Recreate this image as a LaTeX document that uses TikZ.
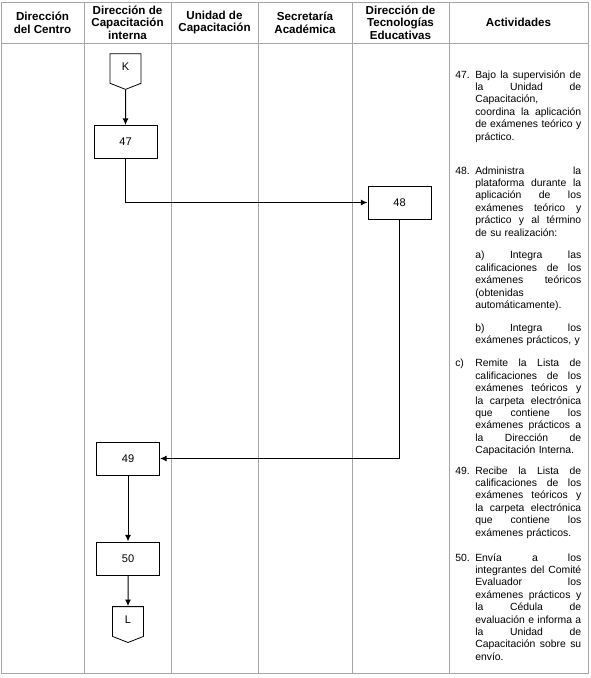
\documentclass[tikz,border=0pt]{standalone}
\usepackage{fontspec}
\setmainfont{Liberation Sans}
\usetikzlibrary{shapes.symbols, arrows.meta}
\newlength{\numw}\setlength{\numw}{15pt}
\newlength{\actw}\setlength{\actw}{79.5pt}
\newcommand{\jl}[1]{\hbox to \actw{\spaceskip=0.25em plus 1fil\relax #1}}
\newcommand{\il}{\hspace*{\numw}}
\newcommand{\nl}[1]{\makebox[\numw][l]{#1}}

\begin{document}
\begin{tikzpicture}[x=0.75pt, y=-0.75pt,
	lane/.style={draw=gray!70, line width=0.75pt},
	head/.style={font=\fontsize{8.7}{9.5}\selectfont\bfseries, align=center},
	stepbox/.style={draw, line width=0.75pt, minimum width=47.25pt, minimum height=24.75pt, inner sep=0pt, font=\fontsize{8.3}{9}\selectfont},
	offpage/.style={draw, line width=0.6pt, signal, signal to=south, signal from=nowhere, signal pointer angle=137, minimum width=23.25pt, minimum height=23.25pt, inner sep=0pt, font=\fontsize{8.3}{9}\selectfont},
	act/.style={anchor=base west, inner sep=0pt, text width=94.5pt, align=left, font=\fontsize{7.8}{9.3}\selectfont},
	flow/.style={->, >={Latex[length=5pt, width=4.5pt]}, line width=0.75pt}]
	\useasboundingbox (0,0) rectangle (590,678);
	% table
	\draw [lane] (1,2) rectangle (588,673);
	\draw [lane] (1,43) -- (588,43);
	\draw [lane] (84,2) -- (84,673);
	\draw [lane] (171,2) -- (171,673);
	\draw [lane] (258,2) -- (258,673);
	\draw [lane] (352,2) -- (352,673);
	\draw [lane] (449,2) -- (449,673);
	% headers
	\node [head] (hcentro) at (42.5,22.5) {Dirección\\del Centro};
	\node [head] (hcapint) at (127.5,22.5) {Dirección de\\Capacitación\\interna};
	\node [head] (hunidad) at (214.5,22.5) {Unidad de\\Capacitación};
	\node [head] (hsecre) at (305,22.5) {Secretaría\\Académica};
	\node [head] (htec) at (400.5,22.5) {Dirección de\\Tecnologías\\Educativas};
	\node [head] (hact) at (518.5,22.5) {Actividades};
	% flow
	\node [offpage] (K) at (125.5,68.5) {\raisebox{2.5pt}{K}};
	\node [stepbox] (p47) at (125.5,142) {47};
	\node [stepbox] (p48) at (399.5,202.5) {48};
	\node [stepbox] (p49) at (128,458.5) {49};
	\node [stepbox] (p50) at (128,558.5) {50};
	\node [offpage] (L) at (128,621.5) {\raisebox{2.5pt}{L}};
	\draw [flow] (K) -- (p47);
	\draw [flow] (p47) |- (p48);
	\draw [flow] (p48) |- (p49);
	\draw [flow] (p49) -- (p50);
	\draw [flow] (p50) -- (L);
	% activities
	\node [act] (t47) at (455,78) {\nl{47.}\jl{Bajo la supervisión de}\\
		\il\jl{la Unidad de}\\
		\il Capacitación,\\
		\il\jl{coordina la aplicación}\\
		\il\jl{de exámenes teórico y}\\
		\il práctico.};
	\node [act] (t48) at (455,174) {\nl{48.}\jl{Administra la}\\
		\il\jl{plataforma durante la}\\
		\il\jl{aplicación de los}\\
		\il\jl{exámenes teórico y}\\
		\il\jl{práctico y al término}\\
		\il de su realización:\\[7.9pt]
		\il\jl{a) Integra las}\\
		\il\jl{calificaciones de los}\\
		\il\jl{exámenes teóricos}\\
		\il (obtenidas\\
		\il automáticamente).\\[7.9pt]
		\il\jl{b) Integra los}\\
		\il exámenes prácticos, y\\[7.9pt]
		\nl{c)}\jl{Remite la Lista de}\\
		\il\jl{calificaciones de los}\\
		\il\jl{exámenes teóricos y}\\
		\il\jl{la carpeta electrónica}\\
		\il\jl{que contiene los}\\
		\il\jl{exámenes prácticos a}\\
		\il\jl{la Dirección de}\\
		\il Capacitación Interna.};
	\node [act] (t49) at (455,474) {\nl{49.}\jl{Recibe la Lista de}\\
		\il\jl{calificaciones de los}\\
		\il\jl{exámenes teóricos y}\\
		\il\jl{la carpeta electrónica}\\
		\il\jl{que contiene los}\\
		\il exámenes prácticos.};
	\node [act] (t50) at (455,561) {\nl{50.}\jl{Envía a los}\\
		\il\jl{integrantes del Comité}\\
		\il\jl{Evaluador los}\\
		\il\jl{exámenes prácticos y}\\
		\il\jl{la Cédula de}\\
		\il\jl{evaluación e informa a}\\
		\il\jl{la Unidad de}\\
		\il\jl{Capacitación sobre su}\\
		\il envío.};
\end{tikzpicture}
\end{document}
